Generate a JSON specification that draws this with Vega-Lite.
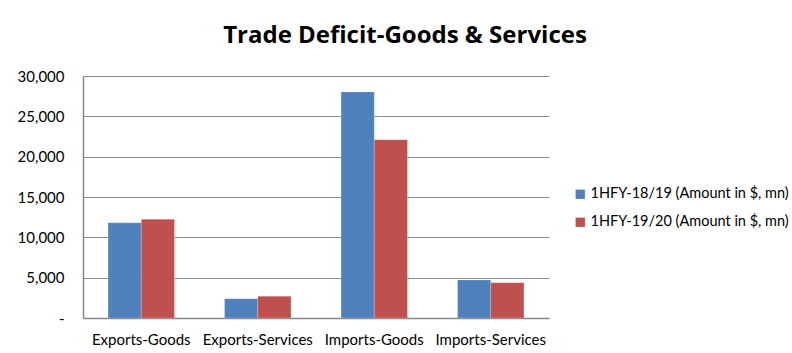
{
  "$schema": "https://vega.github.io/schema/vega-lite/v6.json",
  "width": 466,
  "height": 242,
  "autosize": {"type": "none"},
  "padding": {"left": 83, "top": 76, "right": 243, "bottom": 35},
  "background": "white",
  "title": {
    "text": "Trade Deficit-Goods & Services",
    "font": "Open Sans",
    "fontSize": 24,
    "fontWeight": "bold",
    "color": "#000000",
    "anchor": "middle",
    "dx": 89,
    "offset": 21
  },
  "data": {
    "values": [
      {"category": "Exports-Goods", "series": "1HFY-18/19 (Amount in $, mn)", "value": 11800},
      {"category": "Exports-Goods", "series": "1HFY-19/20 (Amount in $, mn)", "value": 12240},
      {"category": "Exports-Services", "series": "1HFY-18/19 (Amount in $, mn)", "value": 2400},
      {"category": "Exports-Services", "series": "1HFY-19/20 (Amount in $, mn)", "value": 2700},
      {"category": "Imports-Goods", "series": "1HFY-18/19 (Amount in $, mn)", "value": 28010},
      {"category": "Imports-Goods", "series": "1HFY-19/20 (Amount in $, mn)", "value": 22100},
      {"category": "Imports-Services", "series": "1HFY-18/19 (Amount in $, mn)", "value": 4720},
      {"category": "Imports-Services", "series": "1HFY-19/20 (Amount in $, mn)", "value": 4380}
    ]
  },
  "mark": {"type": "bar"},
  "encoding": {
    "x": {
      "field": "category",
      "type": "nominal",
      "sort": null,
      "scale": {"paddingInner": 0.43, "paddingOuter": 0.215},
      "axis": {
        "title": null,
        "labelAngle": 0,
        "labelFont": "Lato",
        "labelFontSize": 15,
        "labelColor": "#000000",
        "labelPadding": 14,
        "ticks": false,
        "domainColor": "#878787",
        "domainWidth": 1.5
      }
    },
    "xOffset": {
      "field": "series",
      "type": "nominal",
      "scale": {"paddingInner": 0, "paddingOuter": 0}
    },
    "y": {
      "field": "value",
      "type": "quantitative",
      "scale": {"domain": [0, 30000], "nice": false},
      "axis": {
        "title": null,
        "values": [0, 5000, 10000, 15000, 20000, 25000, 30000],
        "labelExpr": "datum.value == 0 ? '-' : format(datum.value, ',')",
        "labelFont": "Lato",
        "labelFontSize": 15,
        "labelColor": "#000000",
        "labelPadding": 19,
        "ticks": false,
        "grid": true,
        "gridColor": "#8c8c8c",
        "gridWidth": 1,
        "domain": true,
        "domainColor": "#878787",
        "domainWidth": 1.5
      }
    },
    "color": {
      "field": "series",
      "type": "nominal",
      "scale": {"range": ["#4F81BD", "#C0504D"]},
      "legend": {
        "title": null,
        "orient": "none",
        "legendX": 490,
        "legendY": 111,
        "symbolType": "square",
        "symbolSize": 90,
        "symbolStrokeWidth": 0,
        "labelFont": "Lato",
        "labelFontSize": 14.5,
        "labelLimit": 0,
        "labelColor": "#000000",
        "rowPadding": 13,
        "labelOffset": 3
      }
    }
  },
  "config": {
    "view": {"stroke": null},
    "bar": {"stroke": "#ffffff", "strokeWidth": 0.5, "strokeOpacity": 0.4}
  }
}
